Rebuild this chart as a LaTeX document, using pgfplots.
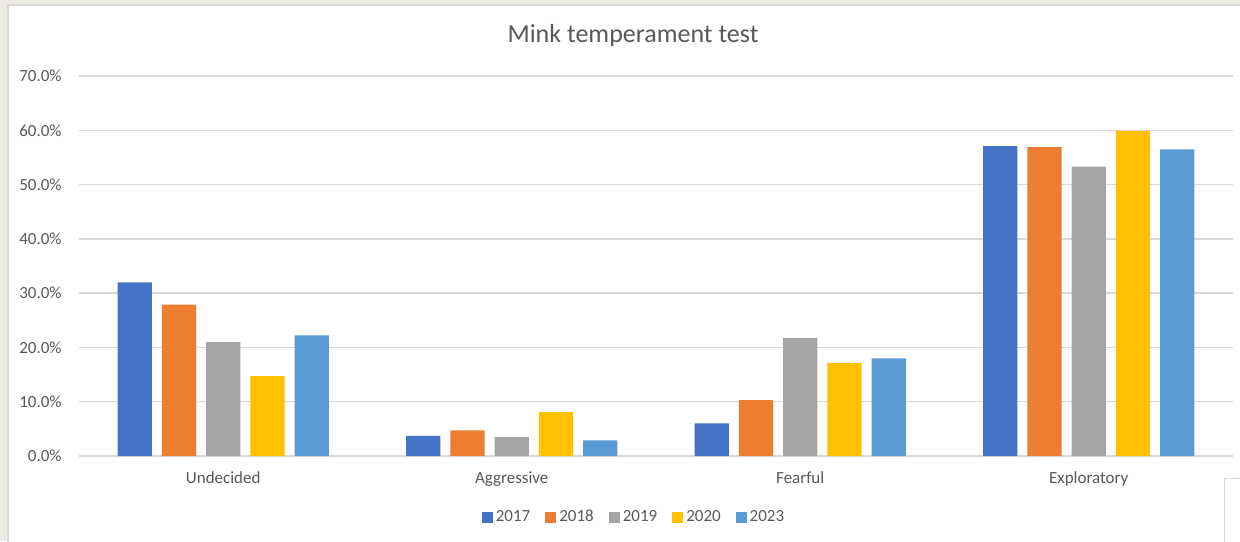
\documentclass[border=0pt]{standalone}
\usepackage{fontspec}
\setmainfont{Carlito}
\usepackage{pgfplots}
\pgfplotsset{compat=1.18}
\definecolor{c17}{HTML}{4472C4}
\definecolor{c18}{HTML}{ED7D31}
\definecolor{c19}{HTML}{A5A5A5}
\definecolor{c20}{HTML}{FFC000}
\definecolor{c23}{HTML}{5B9BD5}
\definecolor{txt}{HTML}{595959}
\definecolor{gridc}{HTML}{D9D9D9}
\definecolor{bg}{HTML}{EEEAE5}
\begin{document}
\begin{tikzpicture}
\path[use as bounding box, fill=bg] (0,0) rectangle (620pt,270.5pt);
\fill[white] (4pt,0) rectangle (620pt,268pt);
\draw[gridc, line width=0.6pt] (4pt,-1pt) -- (4pt,268pt) -- (621pt,268pt);
\draw[gridc, line width=0.5pt] (612pt,-1pt) -- (612pt,31.5pt) -- (621pt,31.5pt);
\node[anchor=base, text=txt, font=\fontsize{13}{15}\selectfont, inner sep=0pt] at (316.5pt,249.4pt) {Mink temperament test};
\begin{axis}[
  at={(39.5pt,42.5pt)}, anchor=south west,
  scale only axis, width=577pt, height=190pt,
  xmin=-0.5, xmax=3.5, ymin=0, ymax=70,
  ytick={0,10,...,70}, xtick={0,1,2,3},
  xticklabels={Undecided,Aggressive,Fearful,Exploratory},
  axis line style={draw=none},
  major tick length=0pt,
  ymajorgrids, grid style={gridc, line width=0.75pt},
  /pgf/number format/assume math mode=true,
  yticklabel={\pgfmathprintnumber[fixed,fixed zerofill,precision=1]{\tick}\%},
  yticklabel style={anchor=east, inner sep=0pt, xshift=-8.5pt, text=txt, font=\fontsize{8.5}{10}\selectfont},
  xticklabel style={anchor=base, inner sep=0pt, yshift=-13.5pt, text=txt, font=\fontsize{8.5}{10}\selectfont},
  legend columns=5,
  legend style={at={(0.4814,-0.1618)}, anchor=center, draw=none, fill=none,
    font=\fontsize{8.5}{10}\selectfont, text=txt,
    nodes={inner sep=1.5pt},
    /tikz/every even column/.append style={column sep=6pt}},
  legend image code/.code={\fill[#1] (0pt,-2.75pt) rectangle (5.5pt,2.75pt);},
]
\addplot[ybar, fill=c17, draw=none, bar width=0.119, bar shift=-0.307] coordinates {(0,32.0) (1,3.7) (2,6.0) (3,57.1)};
\addplot[ybar, fill=c18, draw=none, bar width=0.119, bar shift=-0.1535] coordinates {(0,27.9) (1,4.7) (2,10.3) (3,56.9)};
\addplot[ybar, fill=c19, draw=none, bar width=0.119, bar shift=0] coordinates {(0,21.0) (1,3.5) (2,21.7) (3,53.3)};
\addplot[ybar, fill=c20, draw=none, bar width=0.119, bar shift=0.1535] coordinates {(0,14.7) (1,8.1) (2,17.1) (3,59.9)};
\addplot[ybar, fill=c23, draw=none, bar width=0.119, bar shift=0.307] coordinates {(0,22.2) (1,2.9) (2,18.0) (3,56.5)};
\legend{2017,2018,2019,2020,2023}
\end{axis}
\end{tikzpicture}
\end{document}
